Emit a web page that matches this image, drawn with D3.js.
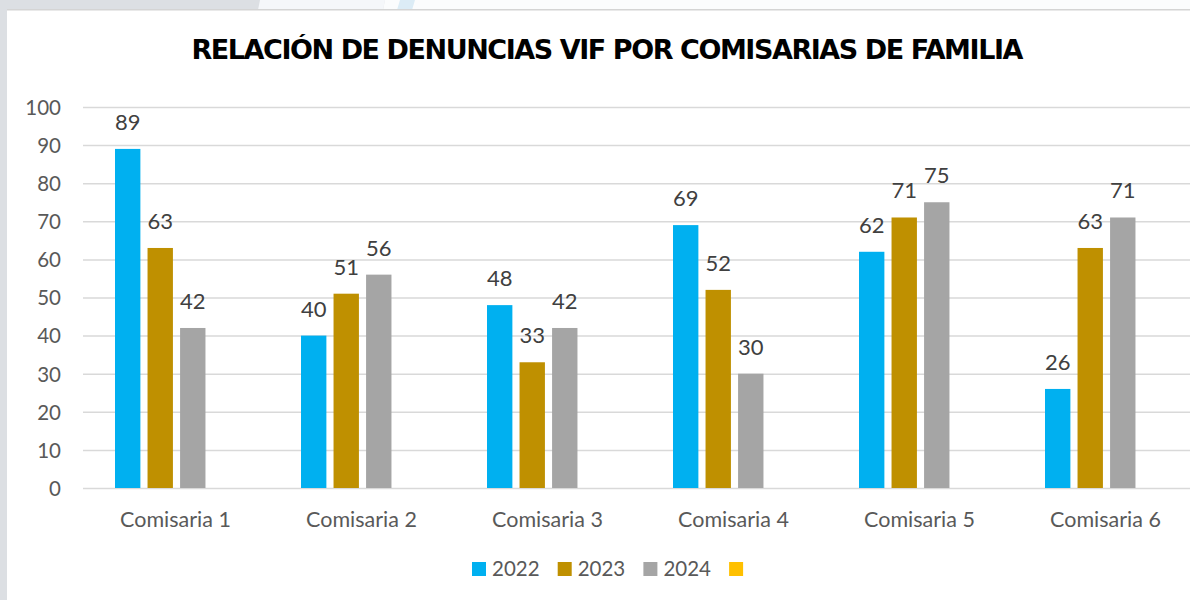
<!DOCTYPE html>
<html>
<head>
<meta charset="utf-8">
<script src="https://cdn.jsdelivr.net/npm/d3@7"></script>
<style>
  html, body { margin: 0; padding: 0; background: #ffffff; }
  svg { display: block; }
</style>
</head>
<body>
<svg id="chart" width="1190" height="600"></svg>
<script>
var categories = ["Comisaria 1", "Comisaria 2", "Comisaria 3", "Comisaria 4", "Comisaria 5", "Comisaria 6"];
var seriesNames = ["2022", "2023", "2024", ""];           // 4th series has no name and no values
var values2022 = [89, 40, 48, 69, 62, 26];
var values2023 = [63, 51, 33, 52, 71, 63];
var values2024 = [42, 56, 42, 30, 75, 71];
var valuesBlank = [null, null, null, null, null, null];
var seriesColors = ["#00B0F0", "#BF9000", "#A5A5A5", "#FFC000"];
var yTicks = [0, 10, 20, 30, 40, 50, 60, 70, 80, 90, 100];
var title = "RELACIÓN DE DENUNCIAS VIF POR COMISARIAS DE FAMILIA";

var seriesValues = [values2022, values2023, values2024, valuesBlank];

var svg = d3.select("#chart");
var W = 1190, H = 600;

// page background around the white chart panel
svg.append("rect").attr("x", 0).attr("y", 0).attr("width", W).attr("height", H).attr("fill", "#dcdfe3");
svg.append("polygon").attr("points", "260,0 385,0 383,10 258,10").attr("fill", "#f5f7fa");
svg.append("polygon").attr("points", "385,0 1190,0 1190,10 383,10").attr("fill", "#fbfcfd");
svg.append("polygon").attr("points", "400,0 415,0 412,10 397,10").attr("fill", "#dcecf6");
svg.append("rect").attr("x", 7).attr("y", 10).attr("width", W - 7).attr("height", H - 10).attr("fill", "#ffffff");
svg.append("line").attr("x1", 7).attr("x2", W).attr("y1", 9.75).attr("y2", 9.75)
  .attr("stroke", "#d4d4d4").attr("stroke-width", 1.5);

var font = "Lato, 'Open Sans', sans-serif";

var x0 = d3.scaleBand().domain(categories).range([82.5, 82.5 + 6 * 186]);
var x1 = d3.scaleBand().domain(d3.range(seriesNames.length)).range([32.5, 155.5]).paddingInner(0.22);
var y = d3.scaleLinear().domain([0, 100]).range([488, 107]);

// y axis with gridlines
var yAxis = svg.append("g")
  .attr("transform", "translate(83,0)")
  .call(d3.axisLeft(y).tickValues(yTicks).tickSize(-(W - 83)).tickPadding(22));
yAxis.select(".domain").remove();
yAxis.selectAll(".tick line").attr("stroke", "#d9d9d9").attr("stroke-width", 1.5);
yAxis.selectAll(".tick text")
  .attr("fill", "#595959")
  .attr("dy", "0.36em")
  .style("font-family", font)
  .style("font-size", "20.5px");

// x axis labels
var xAxis = svg.append("g")
  .attr("transform", "translate(0,488)")
  .call(d3.axisBottom(x0).tickSize(0).tickPadding(0));
xAxis.select(".domain").remove();
xAxis.selectAll(".tick text")
  .attr("y", 39)
  .attr("dy", 0)
  .attr("fill", "#595959")
  .style("font-family", font)
  .style("font-size", "21.5px");

// bars
var groups = svg.append("g").selectAll("g")
  .data(categories)
  .join("g")
  .attr("transform", function(d) { return "translate(" + x0(d) + ",0)"; });

groups.selectAll("rect")
  .data(function(d, ci) {
    return seriesValues.map(function(vals, si) { return { s: si, v: vals[ci] }; });
  })
  .join("rect")
  .filter(function(d) { return d.v !== null; })
  .attr("x", function(d) { return x1(d.s); })
  .attr("y", function(d) { return y(d.v); })
  .attr("width", x1.bandwidth())
  .attr("height", function(d) { return y(0) - y(d.v); })
  .attr("fill", function(d) { return seriesColors[d.s]; });

groups.selectAll("text.lbl")
  .data(function(d, ci) {
    return seriesValues.map(function(vals, si) { return { s: si, v: vals[ci] }; })
      .filter(function(d) { return d.v !== null; });
  })
  .join("text")
  .attr("class", "lbl")
  .attr("x", function(d) { return x1(d.s) + x1.bandwidth() / 2; })
  .attr("y", function(d) { return y(d.v) - 19; })
  .attr("text-anchor", "middle")
  .attr("fill", "#404040")
  .style("font-family", font)
  .style("font-size", "22px")
  .text(function(d) { return d.v; });

// title: bigger glyphs, squeezed to the original width
var t = svg.append("text")
  .attr("x", 606)
  .attr("y", 59)
  .attr("text-anchor", "middle")
  .attr("fill", "#000000")
  .style("font-family", "'DejaVu Sans', sans-serif")
  .style("font-weight", "bold")
  .style("font-size", "27px")
  .text(title);
var tw = t.node().getComputedTextLength();
var ls = (832 - tw) / (title.length - 1);
t.style("letter-spacing", ls + "px").attr("x", 606 - ls / 2);

// legend
var lx = d3.scaleBand().domain(d3.range(seriesNames.length)).range([472, 472 + 4 * 85.7]);
var legend = svg.append("g").selectAll("g")
  .data(seriesNames)
  .join("g")
  .attr("transform", function(d, i) { return "translate(" + lx(i) + ",0)"; });
legend.append("rect")
  .attr("x", 0).attr("y", 562).attr("width", 14).attr("height", 14)
  .attr("fill", function(d, i) { return seriesColors[i]; });
legend.append("text")
  .attr("x", 20).attr("y", 576)
  .attr("fill", "#595959")
  .style("font-family", font)
  .style("font-size", "20.5px")
  .text(function(d) { return d; });
</script>
</body>
</html>
